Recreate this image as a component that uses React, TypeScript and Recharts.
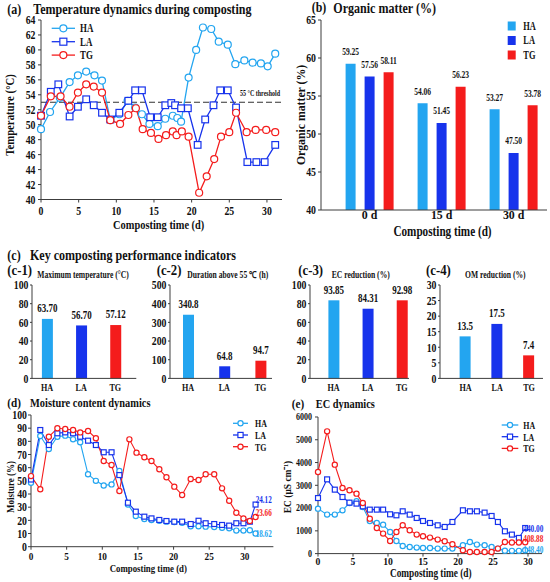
import React from 'react';
import { LineChart, Line, BarChart, Bar, XAxis, YAxis, ReferenceLine, LabelList, Cell } from 'recharts';

const FONT = "'Liberation Serif','Times New Roman',serif";
const HA_COLOR = '#23a5f0';
const LA_COLOR = '#1733ec';
const TG_COLOR = '#f41c1c';
const AXIS_COLOR = '#3c3c3c';
const INK = '#111111';

// ---------- (a) temperature ----------
const tempHaDays = [0, 1.2, 2.5, 3.8, 4.9, 6.0, 7.1, 8.1, 9.2, 10.4, 11.5, 12.5, 13.4, 14.4, 15.5, 16.5, 17.5, 18.1, 18.6, 19.6, 20.6, 21.5, 22.6, 23.6, 24.8, 25.8, 27.0, 28.1, 29.2, 30.1, 31.1];
const tempHa = [49.4, 51.7, 53.6, 55.7, 56.6, 57.1, 56.6, 55.9, 50.6, 51.4, 53.2, 52.3, 51.4, 50.1, 49.8, 50.8, 51.2, 50.9, 50.4, 56.3, 60.0, 63.0, 62.8, 61.1, 60.7, 58.1, 58.6, 58.3, 58.2, 57.8, 59.5];
const tempLaDays = [0, 1.3, 2.3, 3.8, 4.9, 6.0, 7.0, 8.1, 9.2, 10.4, 11.6, 12.5, 13.4, 14.5, 15.5, 16.5, 17.3, 17.8, 18.6, 19.5, 20.8, 21.8, 22.9, 23.8, 24.8, 25.9, 27.4, 28.6, 29.7, 31.1];
const tempLa = [51.2, 54.4, 55.4, 51.1, 52.4, 53.4, 52.6, 51.6, 50.7, 51.6, 53.2, 54.6, 54.6, 51.0, 51.0, 52.6, 52.9, 52.6, 52.2, 52.2, 47.3, 50.7, 52.6, 54.6, 54.6, 52.3, 45.0, 45.0, 45.0, 47.3];
const tempTgDays = [0, 1.3, 2.6, 3.8, 4.9, 6.0, 7.0, 8.1, 9.2, 10.5, 11.6, 12.6, 13.5, 14.6, 15.6, 16.6, 17.5, 18.0, 18.7, 19.6, 21.0, 22.0, 23.0, 23.9, 25.0, 25.9, 27.3, 28.5, 29.9, 31.1];
const tempTg = [51.2, 53.8, 53.8, 52.4, 54.3, 55.4, 55.1, 54.3, 50.6, 50.1, 51.3, 52.2, 49.4, 48.9, 48.1, 48.6, 49.1, 48.6, 49.1, 48.4, 40.9, 43.1, 45.4, 48.4, 49.0, 51.6, 49.0, 49.3, 49.3, 49.0];
const tempThreshold = 53;
const tempTicks = [40, 42, 44, 46, 48, 50, 52, 54, 56, 58, 60, 62, 64];
const dayTicks = [0, 5, 10, 15, 20, 25, 30];

// ---------- (b) organic matter ----------
const omTimes = ['0 d', '15 d', '30 d'];
const omHa = [59.25, 54.06, 53.27];
const omLa = [57.56, 51.45, 47.5];
const omTg = [58.11, 56.23, 53.78];
const omTicks = [40, 45, 50, 55, 60, 65];

// ---------- (c) indicators ----------
const groups = ['HA', 'LA', 'TG'];
const maxTemp = [63.7, 56.7, 57.12];
const durationAbove = [340.8, 64.8, 94.7];
const ecReductionBar = [83.6, 74.6, 83.6];
const ecReductionText = ['93.85', '84.31', '92.98'];
const omReduction = [13.5, 17.5, 7.4];

// ---------- (d) moisture ----------
const moistHaDays = [0, 1.3, 2.5, 3.7, 4.8, 5.9, 6.9, 8.0, 9.1, 10.2, 11.3, 12.4, 13.6, 14.7, 15.9, 16.9, 18.0, 19.0, 20.1, 21.2, 22.4, 23.5, 24.5, 25.7, 26.8, 27.8, 28.8, 29.8, 30.7, 31.5];
const moistHa = [48.5, 84.0, 74.2, 83.5, 84.3, 81.5, 79.3, 55.0, 50.0, 46.5, 47.3, 57.5, 32.0, 23.3, 21.0, 20.3, 19.7, 19.0, 18.7, 18.2, 15.5, 15.5, 15.2, 15.0, 14.4, 14.0, 12.2, 12.2, 12.5, 10.0];
const moistLaDays = [0, 1.3, 2.5, 3.7, 4.8, 5.9, 6.9, 8.0, 9.1, 10.2, 11.3, 12.4, 13.6, 14.7, 15.9, 16.9, 18.0, 19.0, 20.1, 21.2, 22.4, 23.5, 24.5, 25.7, 26.8, 27.8, 28.8, 29.8, 30.7, 31.5];
const moistLa = [51.0, 88.6, 77.2, 86.1, 86.8, 86.1, 83.5, 80.5, 77.2, 71.7, 71.7, 54.4, 33.4, 26.6, 22.8, 21.5, 20.3, 19.5, 19.0, 19.0, 17.2, 19.7, 17.8, 17.2, 16.5, 16.0, 17.8, 17.8, 19.0, 32.0];
const moistTgDays = [0, 1.3, 2.5, 3.7, 4.8, 5.9, 6.9, 8.0, 9.1, 10.2, 11.3, 12.4, 13.8, 14.8, 15.9, 16.9, 18.0, 19.0, 20.1, 21.2, 22.4, 23.5, 24.5, 25.7, 26.8, 27.8, 28.8, 29.8, 30.7, 31.5];
const moistTg = [53.6, 43.6, 83.5, 89.9, 89.4, 88.6, 86.8, 87.9, 82.3, 65.1, 62.0, 42.3, 81.5, 71.4, 67.9, 65.1, 58.8, 52.7, 45.6, 39.3, 51.4, 50.6, 55.0, 55.0, 44.3, 34.9, 25.8, 21.5, 19.5, 22.5];
const moistTicks = [0, 10, 20, 30, 40, 50, 60, 70, 80, 90, 100];
const moistEndText = ['18.62', '24.12', '23.66'];

// ---------- (e) EC ----------
const ecDays = [0, 1.3, 2.4, 3.5, 4.5, 5.5, 6.4, 7.4, 8.4, 9.3, 10.3, 11.2, 12.1, 13.1, 14.1, 15.0, 16.0, 17.1, 18.1, 19.2, 20.7, 21.7, 22.7, 23.8, 24.8, 25.7, 26.7, 27.7, 28.7, 29.6];
const ecHa = [1975, 1712, 1712, 1900, 2222, 2296, 2047, 1432, 1345, 1272, 950, 555, 336, 292, 263, 248, 248, 219, 219, 219, 365, 512, 395, 365, 292, 219, 130, 120, 120, 150];
const ecLa = [2440, 3261, 2809, 2485, 2239, 2195, 2076, 1931, 1931, 1931, 1726, 1682, 1858, 1712, 1565, 1432, 1345, 1243, 1170, 1389, 1902, 1858, 1858, 1800, 1653, 1389, 980, 834, 687, 1124];
const ecTg = [3585, 5370, 3906, 2882, 2780, 2634, 2222, 1536, 1126, 878, 555, 950, 1243, 1023, 834, 760, 702, 614, 541, 409, 146, 73, 73, 73, 73, 219, 512, 490, 490, 500];
const ecTicks = [0, 1000, 2000, 3000, 4000, 5000, 6000];
const ecEndText = ['148.40', '440.00', '408.88'];

const SERIES = [
  { name: 'HA', color: HA_COLOR, shape: 'circle' },
  { name: 'LA', color: LA_COLOR, shape: 'square' },
  { name: 'TG', color: TG_COLOR, shape: 'circle' },
];
const BAR_COLORS = [HA_COLOR, LA_COLOR, TG_COLOR];

const zip = (xs: number[], ys: number[]) => xs.map((x, i) => ({ x, y: ys[i] }));

function SText({ x, y, size, sx = 0.8, anchor = 'middle', fill = INK, rotate = 0, children }: any) {
  const t = `translate(${x},${y})${rotate ? ` rotate(${rotate})` : ''} scale(${sx},1)`;
  return (
    <text transform={t} textAnchor={anchor} dominantBaseline="central" fontSize={size} fontFamily={FONT} fontWeight="bold" fill={fill}>
      {children}
    </text>
  );
}

const yTick = (size: number, sx: number) => (p: any) => (
  <SText x={p.x} y={p.y} size={size} sx={sx} anchor="end">{p.payload.value}</SText>
);
const xTick = (size: number, sx: number, dy: number) => (p: any) => (
  <SText x={p.x} y={p.y + dy} size={size} sx={sx}>{p.payload.value}</SText>
);

function makeDot(color: string, shape: string, size: number) {
  if (shape === 'square') {
    return (p: any) =>
      p.cx == null ? <g key={'e' + p.index} /> : (
        <rect key={'s' + p.index} x={p.cx - size / 2} y={p.cy - size / 2} width={size} height={size} fill="#fff" stroke={color} strokeWidth={1.2} />
      );
  }
  return { r: size / 2, fill: '#fff', stroke: color, strokeWidth: 1.2 };
}

type Rect = { x: number; y: number; w: number; h: number };
type Pad = { l: number; r: number; t: number; b: number };

function LinePanel(props: any) {
  const { rect, pad, xDomain, yDomain, yTicks, xTicks, lines, dotSize, strokeW, yt, xt, xDy, yGap, children } = props;
  const r: Rect = rect;
  const p: Pad = pad;
  return (
    <div style={{ position: 'absolute', left: r.x - p.l, top: r.y - p.t }}>
      <LineChart width={r.w + p.l + p.r} height={r.h + p.t + p.b} margin={{ top: p.t, right: p.r, bottom: 0, left: 0 }}>
        <XAxis type="number" dataKey="x" domain={xDomain} ticks={xTicks} interval={0} height={p.b} tickSize={3} tickMargin={2} stroke={AXIS_COLOR} tick={xTick(xt[0], xt[1], xDy)} />
        <XAxis xAxisId="top" orientation="top" type="number" dataKey="x" domain={xDomain} height={0} tick={false} tickLine={false} stroke={AXIS_COLOR} />
        <YAxis type="number" domain={yDomain} ticks={yTicks} interval={0} width={p.l} tickSize={3} tickMargin={yGap} stroke={AXIS_COLOR} tick={yTick(yt[0], yt[1])} />
        <YAxis yAxisId="right" orientation="right" type="number" domain={yDomain} width={0} tick={false} tickLine={false} stroke={AXIS_COLOR} />
        {children}
        {lines.map((ln: any) => (
          <Line
            key={ln.name}
            name={ln.name}
            data={ln.data}
            dataKey="y"
            stroke={ln.color}
            strokeWidth={strokeW}
            dot={makeDot(ln.color, ln.shape, ln.shape === 'square' ? dotSize * 0.95 : dotSize) as any}
            activeDot={false}
            isAnimationActive={false}
          />
        ))}
      </LineChart>
    </div>
  );
}

function ThresholdLabel(props: any) {
  const vb = props.viewBox || { x: 0, y: 0, width: 0 };
  return <SText x={vb.x + vb.width - 2} y={vb.y - 8.5} size={8} sx={0.75} anchor="end">55 °C threshold</SText>;
}

const barLabel = (size: number, sx: number, off: number, fmt: (v: any) => string) => (p: any) => (
  <SText key={'l' + p.index} x={p.x + p.width / 2} y={p.y - off} size={size} sx={sx}>{fmt(p.value)}</SText>
);

function SmallBars({ rect, padding, values, texts, yDomain, yTicks }: any) {
  const r: Rect = rect;
  const p: Pad = { l: 30, r: 4, t: 6, b: 16 };
  const data = groups.map((g, i) => ({ g, v: values[i], label: texts[i] }));
  return (
    <div style={{ position: 'absolute', left: r.x - p.l, top: r.y - p.t }}>
      <BarChart width={r.w + p.l + p.r} height={r.h + p.t + p.b} margin={{ top: p.t, right: p.r, bottom: 0, left: 0 }} data={data}>
        <XAxis dataKey="g" height={p.b} tickSize={0} tickMargin={4} padding={padding} interval={0} stroke={AXIS_COLOR} tick={xTick(11, 0.74, 5)} />
        <XAxis xAxisId="top" orientation="top" dataKey="g" height={0} tick={false} tickLine={false} stroke={AXIS_COLOR} />
        <YAxis type="number" domain={yDomain} ticks={yTicks} interval={0} width={p.l} tickSize={2} tickMargin={1.5} stroke={AXIS_COLOR} tick={yTick(11.5, 0.85)} />
        <YAxis yAxisId="right" orientation="right" type="number" domain={yDomain} width={0} tick={false} tickLine={false} stroke={AXIS_COLOR} />
        <Bar dataKey="v" barSize={11} isAnimationActive={false}>
          {data.map((d, i) => (
            <Cell key={d.g} fill={BAR_COLORS[i]} />
          ))}
          <LabelList dataKey="label" content={barLabel(11.5, 0.78, 10.5, (v) => String(v))} />
        </Bar>
      </BarChart>
    </div>
  );
}

function LegendLines({ x, y, gap, len, labelX, size, sx, dot }: any) {
  return (
    <g>
      {SERIES.map((s, i) => {
        const cy = y + i * gap;
        const cx = x + len / 2;
        return (
          <g key={s.name}>
            <line x1={x} x2={x + len} y1={cy} y2={cy} stroke={s.color} strokeWidth={1.3} />
            {s.shape === 'square' ? (
              <rect x={cx - dot / 2} y={cy - dot / 2} width={dot} height={dot} fill="#fff" stroke={s.color} strokeWidth={1.2} />
            ) : (
              <circle cx={cx} cy={cy} r={dot / 2} fill="#fff" stroke={s.color} strokeWidth={1.2} />
            )}
            <SText x={labelX} y={cy} size={size} sx={sx} anchor="start">{s.name}</SText>
          </g>
        );
      })}
    </g>
  );
}

const A_RECT = { x: 40.5, y: 19.5, w: 241, h: 179.5 };
const B_RECT = { x: 320.7, y: 20.3, w: 226, h: 190 };
const C1_RECT = { x: 31.7, y: 284.6, w: 104.3, h: 93.4 };
const C2_RECT = { x: 170, y: 284.6, w: 102, h: 93.4 };
const C3_RECT = { x: 309.5, y: 284.6, w: 99, h: 93.4 };
const C4_RECT = { x: 440, y: 284.6, w: 103, h: 93.4 };
const D_RECT = { x: 31, y: 415, w: 242.4, h: 131.7 };
const E_RECT = { x: 318.3, y: 416.7, w: 224, h: 136.6 };

export default function App() {
  const tempLines = [
    { ...SERIES[0], data: zip(tempHaDays, tempHa) },
    { ...SERIES[1], data: zip(tempLaDays, tempLa) },
    { ...SERIES[2], data: zip(tempTgDays, tempTg) },
  ];
  const moistLines = [
    { ...SERIES[0], data: zip(moistHaDays, moistHa) },
    { ...SERIES[1], data: zip(moistLaDays, moistLa) },
    { ...SERIES[2], data: zip(moistTgDays, moistTg) },
  ];
  const ecLines = [
    { ...SERIES[0], data: zip(ecDays, ecHa) },
    { ...SERIES[1], data: zip(ecDays, ecLa) },
    { ...SERIES[2], data: zip(ecDays, ecTg) },
  ];
  const omData = omTimes.map((t, i) => ({ t, HA: omHa[i], LA: omLa[i], TG: omTg[i] }));
  const bp: Pad = { l: 38, r: 3, t: 8, b: 22 };

  return (
    <div style={{ position: 'absolute', left: 0, top: 0, width: 550, height: 582, background: '#fff', overflow: 'hidden' }}>
      <LinePanel
        rect={A_RECT}
        pad={{ l: 40, r: 6, t: 8, b: 20 }}
        xDomain={[0, 32]}
        yDomain={[40, 64]}
        yTicks={tempTicks}
        xTicks={dayTicks}
        lines={tempLines}
        dotSize={7}
        strokeW={1.3}
        yt={[11.5, 0.85]}
        xt={[11.5, 0.85]}
        xDy={6}
        yGap={2.5}
      >
        <ReferenceLine y={tempThreshold} stroke="#333" strokeWidth={1.1} strokeDasharray="6 3" label={<ThresholdLabel />} />
      </LinePanel>

      <div style={{ position: 'absolute', left: B_RECT.x - bp.l, top: B_RECT.y - bp.t }}>
        <BarChart width={B_RECT.w + bp.l + bp.r} height={B_RECT.h + bp.t + bp.b} margin={{ top: bp.t, right: bp.r, bottom: 0, left: 0 }} data={omData} barSize={10} barGap={9}>
          <XAxis dataKey="t" height={bp.b} tickSize={0} tickMargin={2} padding={{ left: 12.6, right: -2.6 }} interval={0} stroke={AXIS_COLOR} tick={xTick(13.5, 0.88, 3)} />
          <XAxis xAxisId="top" orientation="top" dataKey="t" height={0} tick={false} tickLine={false} stroke={AXIS_COLOR} />
          <YAxis type="number" domain={[40, 65]} ticks={omTicks} interval={0} width={bp.l} tickSize={3} tickMargin={2} stroke={AXIS_COLOR} tick={yTick(11.5, 0.85)} />
          <YAxis yAxisId="right" orientation="right" type="number" domain={[40, 65]} width={0} tick={false} tickLine={false} stroke={AXIS_COLOR} />
          {SERIES.map((s) => (
            <Bar key={s.name} dataKey={s.name} fill={s.color} isAnimationActive={false}>
              <LabelList dataKey={s.name} content={barLabel(10, 0.75, 12, (v) => Number(v).toFixed(2))} />
            </Bar>
          ))}
        </BarChart>
      </div>

      <SmallBars rect={C1_RECT} padding={{ left: -2.1, right: 3.9 }} values={maxTemp} texts={maxTemp.map((v) => v.toFixed(2))} yDomain={[0, 100]} yTicks={[0, 20, 40, 60, 80, 100]} />
      <SmallBars rect={C2_RECT} padding={{ left: 0, right: -6.6 }} values={durationAbove} texts={durationAbove.map((v) => v.toFixed(1))} yDomain={[0, 500]} yTicks={[0, 100, 200, 300, 400, 500]} />
      <SmallBars rect={C3_RECT} padding={{ left: 6.4, right: -9.9 }} values={ecReductionBar} texts={ecReductionText} yDomain={[0, 100]} yTicks={[0, 20, 40, 60, 80, 100]} />
      <SmallBars rect={C4_RECT} padding={{ left: 9.6, right: -1.9 }} values={omReduction} texts={omReduction.map((v) => v.toFixed(1))} yDomain={[0, 30]} yTicks={[0, 5, 10, 15, 20, 25, 30]} />

      <LinePanel
        rect={D_RECT}
        pad={{ l: 30, r: 4, t: 6, b: 18 }}
        xDomain={[0, 34]}
        yDomain={[0, 100]}
        yTicks={moistTicks}
        xTicks={dayTicks}
        lines={moistLines}
        dotSize={5.2}
        strokeW={1.1}
        yt={[11.5, 0.85]}
        xt={[10.5, 0.88]}
        xDy={4.5}
        yGap={1}
      />

      <LinePanel
        rect={E_RECT}
        pad={{ l: 34, r: 4, t: 6, b: 18 }}
        xDomain={[0, 32]}
        yDomain={[0, 6000]}
        yTicks={ecTicks}
        xTicks={dayTicks}
        lines={ecLines}
        dotSize={5.2}
        strokeW={1.1}
        yt={[10, 0.8]}
        xt={[11, 0.88]}
        xDy={2.5}
        yGap={3}
      />

      <svg width={550} height={582} style={{ position: 'absolute', left: 0, top: 0, pointerEvents: 'none' }}>
        {/* panel titles */}
        <SText x={7.3} y={9.5} size={14.5} sx={0.83} anchor="start">(a)</SText>
        <SText x={33.3} y={9.5} size={14.5} sx={0.83} anchor="start">Temperature dynamics during composting</SText>
        <SText x={311.7} y={7.5} size={14} sx={0.85} anchor="start">(b)</SText>
        <SText x={333.3} y={7.8} size={14.5} sx={0.83} anchor="start">Organic matter (%)</SText>
        <SText x={7.3} y={255.5} size={14.5} sx={0.83} anchor="start">(c)</SText>
        <SText x={30} y={255.5} size={14.5} sx={0.83} anchor="start">Key composting performance indicators</SText>
        <SText x={7.3} y={270.5} size={15} sx={0.85} anchor="start">(c-1)</SText>
        <SText x={156.7} y={270.5} size={15} sx={0.85} anchor="start">(c-2)</SText>
        <SText x={298.3} y={270.5} size={15} sx={0.85} anchor="start">(c-3)</SText>
        <SText x={426} y={270.5} size={15} sx={0.85} anchor="start">(c-4)</SText>
        <SText x={37.3} y={274.5} size={9.5} sx={0.8} anchor="start">Maximum temperature (°C)</SText>
        <SText x={187.3} y={274.5} size={9.5} sx={0.8} anchor="start">Duration above 55 ℃ (h)</SText>
        <SText x={331.7} y={274.5} size={9.5} sx={0.8} anchor="start">EC reduction (%)</SText>
        <SText x={465} y={274.5} size={9.5} sx={0.8} anchor="start">OM reduction (%)</SText>
        <SText x={7.3} y={402.5} size={13} sx={0.86} anchor="start">(d)</SText>
        <SText x={30} y={403.5} size={13} sx={0.8} anchor="start">Moisture content dynamics</SText>
        <SText x={291.7} y={404} size={13.5} sx={0.83} anchor="start">(e)</SText>
        <SText x={315.7} y={404} size={13} sx={0.8} anchor="start">EC dynamics</SText>

        {/* axis titles */}
        <SText x={158.7} y={225} size={13} sx={0.8}>Composting time (d)</SText>
        <SText x={10} y={115} size={12.5} sx={0.86} rotate={-90}>Temperature (°C)</SText>
        <SText x={442.5} y={232} size={14} sx={0.8}>Composting time (d)</SText>
        <SText x={300.5} y={115} size={12.5} sx={0.94} rotate={-90}>Organic matter (%)</SText>
        <SText x={148.3} y={568} size={11} sx={0.8}>Composting time (d)</SText>
        <SText x={10.5} y={487} size={11} sx={0.82} rotate={-90}>Moisture (%)</SText>
        <SText x={430.8} y={573} size={11.5} sx={0.81}>Composting time (d)</SText>
        <SText x={287} y={487} size={11} sx={0.86} rotate={-90}>EC (μS cm⁻¹)</SText>

        {/* legends */}
        <LegendLines x={51.7} y={28.3} gap={13.4} len={23.3} labelX={80} size={12} sx={0.74} dot={7} />
        {SERIES.map((s, i) => (
          <g key={'bl' + s.name}>
            <rect x={507.7} y={26 + i * 14.5 - 4.5} width={8} height={9} fill={s.color} />
            <SText x={523.3} y={26 + i * 14.5} size={11.5} sx={0.73} anchor="start">{s.name}</SText>
          </g>
        ))}
        <LegendLines x={233} y={423.3} gap={11.7} len={15} labelX={255} size={11} sx={0.72} dot={5.2} />
        <LegendLines x={501.7} y={425} gap={11.7} len={16.6} labelX={523.3} size={11} sx={0.72} dot={5.2} />

        {/* end-value annotations */}
        <SText x={255.7} y={534.3} size={9.5} sx={0.75} anchor="start" fill={HA_COLOR}>{moistEndText[0]}</SText>
        <SText x={255.7} y={500} size={9.5} sx={0.75} anchor="start" fill={LA_COLOR}>{moistEndText[1]}</SText>
        <SText x={255.7} y={513.3} size={9.5} sx={0.75} anchor="start" fill={TG_COLOR}>{moistEndText[2]}</SText>
        <SText x={523.3} y={550} size={9.5} sx={0.77} anchor="start" fill={HA_COLOR}>{ecEndText[0]}</SText>
        <SText x={523.3} y={528.3} size={9.5} sx={0.77} anchor="start" fill={LA_COLOR}>{ecEndText[1]}</SText>
        <SText x={523.3} y={539} size={9.5} sx={0.77} anchor="start" fill={TG_COLOR}>{ecEndText[2]}</SText>
      </svg>
    </div>
  );
}
